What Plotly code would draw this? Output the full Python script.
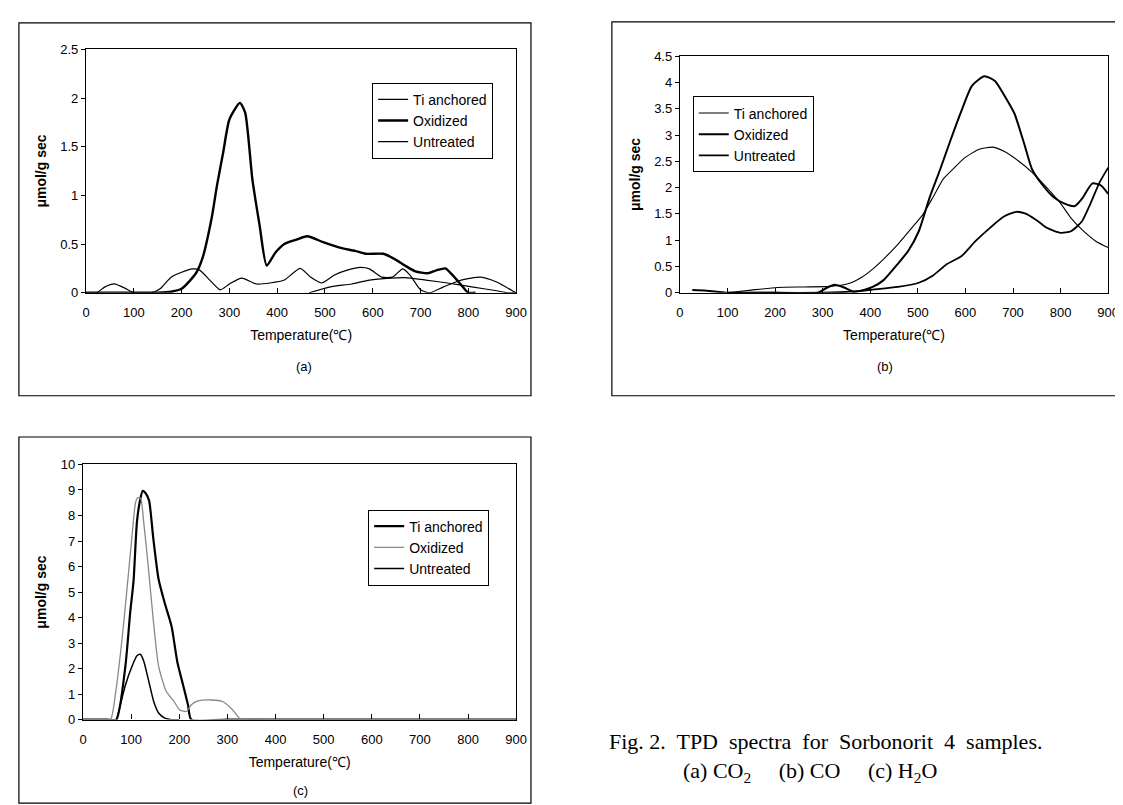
import plotly.graph_objects as go

W, H = 1123, 805

# ---------------- data ----------------
# Panel (a) CO2
a_ti_T = [0, 22, 40, 59, 80, 100, 137, 155, 178, 200, 222, 237, 259, 281, 300, 326, 356, 385, 415, 448,
          470, 493, 519, 548, 574, 593, 619, 641, 663, 678, 700, 719, 748, 785, 826, 859, 896, 900]
a_ti_v = [0, 0, 0.06, 0.09, 0.05, 0, 0, 0.04, 0.16, 0.21, 0.245, 0.235, 0.13, 0.03, 0.09, 0.15, 0.09, 0.10, 0.13, 0.25,
          0.16, 0.10, 0.18, 0.235, 0.26, 0.245, 0.16, 0.16, 0.245, 0.18, 0.03, 0, 0.06, 0.13, 0.16, 0.11, 0.01, 0]
a_ox_T = [0, 100, 150, 178, 200, 230, 244, 263, 274, 287, 300, 322, 333, 348, 363, 378, 396, 415, 437, 463,
          496, 533, 563, 585, 622, 644, 667, 689, 715, 733, 752, 767, 785, 800, 815]
a_ox_v = [0, 0, 0, 0.01, 0.04, 0.2, 0.36, 0.77, 1.1, 1.44, 1.78, 1.95, 1.85, 1.17, 0.7, 0.28, 0.41, 0.5, 0.54, 0.58,
          0.52, 0.46, 0.43, 0.40, 0.40, 0.35, 0.28, 0.22, 0.2, 0.23, 0.25, 0.18, 0.08, 0, 0]
a_un_T = [467, 511, 556, 593, 637, 667, 711, 756, 807, 859, 881, 900]
a_un_v = [0, 0.06, 0.09, 0.13, 0.15, 0.155, 0.13, 0.10, 0.06, 0.02, 0, 0]

# Panel (b) CO
b_ti_T = [100, 150, 205, 260, 316, 353, 383, 405, 428, 458, 487, 510, 532, 554, 577, 599, 629, 658, 681, 711,
          740, 770, 800, 822, 845, 874, 900]
b_ti_v = [0, 0.05, 0.1, 0.11, 0.12, 0.17, 0.3, 0.45, 0.64, 0.92, 1.23, 1.48, 1.82, 2.17, 2.38, 2.57, 2.73, 2.77, 2.69, 2.51,
          2.29, 2.01, 1.70, 1.42, 1.2, 0.98, 0.86]
b_ox_T = [26, 56, 100, 200, 290, 310, 325, 345, 365, 385, 405, 428, 458, 480, 502, 524, 547, 569, 592, 614, 640,
          662, 684, 703, 725, 740, 763, 785, 807, 830, 845, 867, 885, 900]
b_ox_v = [0.05, 0.04, 0, 0, 0, 0.1, 0.15, 0.1, 0.02, 0.05, 0.11, 0.24, 0.55, 0.8, 1.17, 1.79, 2.35, 2.91, 3.47, 3.94, 4.12,
          4.03, 3.72, 3.41, 2.79, 2.35, 2.04, 1.82, 1.70, 1.65, 1.79, 2.08, 2.04, 1.88]
b_un_T = [100, 200, 300, 360, 405, 458, 502, 532, 562, 592, 621, 651, 681, 707, 725, 748, 770, 800, 822, 845, 863, 882, 900]
b_un_v = [0, 0, 0, 0.02, 0.06, 0.11, 0.19, 0.33, 0.55, 0.7, 0.98, 1.23, 1.45, 1.54, 1.51, 1.39, 1.24, 1.14, 1.17, 1.36, 1.70, 2.1, 2.38]

# Panel (c) H2O
c_ti_T = [0, 50, 69, 88, 98, 105, 112, 119, 124, 129, 137, 146, 157, 170, 184, 196, 208, 218, 225, 300, 900]
c_ti_v = [0, 0, 0, 2.1, 4.2, 5.45, 7.75, 8.65, 8.97, 8.9, 8.6, 7.1, 5.5, 4.55, 3.65, 2.25, 1.35, 0.58, 0, 0, 0]
c_ox_T = [0, 40, 57, 68, 81, 91, 102, 109, 114, 120, 126, 135, 146, 157, 173, 187, 201, 215, 225, 239, 267, 291,
          311, 329, 400, 900]
c_ox_v = [0, 0, 0, 1.1, 3.15, 5.05, 7.25, 8.5, 8.7, 8.65, 7.75, 6.1, 3.9, 2.1, 1.1, 0.77, 0.38, 0.32, 0.58, 0.73, 0.77, 0.7,
          0.38, 0, 0, 0]
c_un_T = [70, 88, 102, 112, 119, 126, 137, 147, 157, 170, 184, 200]
c_un_v = [0, 1.35, 2.1, 2.5, 2.56, 2.3, 1.47, 0.7, 0.26, 0.06, 0, 0]

series_names = ["Ti anchored", "Oxidized", "Untreated"]
x_ticks = [0, 100, 200, 300, 400, 500, 600, 700, 800, 900]

# ---------------- layout helpers ----------------
def px(x):
    return x / W


def py(y):
    return 1 - y / H


FONT = "Liberation Sans, Arial, sans-serif"
SERIF = "Liberation Serif, Times New Roman, serif"

fig = go.Figure()


def add(T, v, name, xa, ya, legend, width, color="black", dash="solid"):
    fig.add_trace(go.Scatter(
        x=T, y=v, name=name, mode="lines", xaxis=xa, yaxis=ya, legend=legend,
        line=dict(color=color, width=width, shape="spline", smoothing=0.6, dash=dash),
        cliponaxis=True,
    ))


add(a_ti_T, a_ti_v, series_names[0], "x", "y", "legend", 1.2)
add(a_ox_T, a_ox_v, series_names[1], "x", "y", "legend", 2.4)
add(a_un_T, a_un_v, series_names[2], "x", "y", "legend", 1.2)

add(b_ti_T, b_ti_v, series_names[0], "x2", "y2", "legend2", 1.1)
add(b_ox_T, b_ox_v, series_names[1], "x2", "y2", "legend2", 2.0)
add(b_un_T, b_un_v, series_names[2], "x2", "y2", "legend2", 1.8)

add(c_ti_T, c_ti_v, series_names[0], "x3", "y3", "legend3", 2.2)
add(c_ox_T, c_ox_v, series_names[1], "x3", "y3", "legend3", 1.3, color="#888888")
add(c_un_T, c_un_v, series_names[2], "x3", "y3", "legend3", 1.5)

panels = [
    # (xdomain px, ydomain px, ymax, dtick)
    ((75, 511), (35, 283), 2.5, 0.5),
    ((677, 1111), (42, 283), 4.5, 0.5),
    ((72, 511), (458, 718), 10, 1),
]

axis_common = dict(showline=True, linecolor="black", linewidth=1.3, mirror=True, showgrid=False,
                   zeroline=False, tickfont=dict(family=FONT, size=13, color="black"))

for i, ((x0, x1), (y0, y1), ymax, dt) in enumerate(panels):
    sfx = "" if i == 0 else str(i + 1)
    fig.update_layout(**{
        "xaxis" + sfx: dict(domain=[px(x0), px(x1)], range=[0, 900], tickvals=x_ticks,
                            ticks="inside", ticklen=5, tickcolor="black", ticklabelstandoff=8,
                            anchor="y" + sfx,
                            title=dict(text="Temperature(℃)", font=dict(family=FONT, size=14, color="black"),
                                       standoff=10),
                            **axis_common),
        "yaxis" + sfx: dict(domain=[py(y1), py(y0)], range=[0, ymax], dtick=dt,
                            ticks="outside", ticklen=4, tickcolor="black",
                            anchor="x" + sfx,
                            title=dict(text="<b>μmol/g sec</b>", font=dict(family=FONT, size=14, color="black"),
                                       standoff=10),
                            **axis_common),
    })

leg_common = dict(bgcolor="white", bordercolor="black", borderwidth=1,
                  font=dict(family=FONT, size=14, color="black"),
                  xanchor="left", yanchor="top", tracegroupgap=0, itemwidth=30)

fig.update_layout(
    width=W, height=H, margin=dict(l=0, r=0, t=0, b=0),
    paper_bgcolor="white", plot_bgcolor="white", showlegend=True,
    legend=dict(x=px(365), y=py(69), **leg_common),
    legend2=dict(x=px(690), y=py(83), **leg_common),
    legend3=dict(x=px(361), y=py(504), **leg_common),
)

# outer frames
for (x0, y0, x1, y1) in [(7, 8, 526, 388), (608, 7, 1120, 388), (7, 430, 526, 803)]:
    fig.add_shape(type="rect", xref="paper", yref="paper",
                  x0=px(x0), x1=px(x1), y0=py(y1), y1=py(y0),
                  line=dict(color="black", width=1.2))

# panel tags
for txt, x, y in [("(a)", 296, 358), ("(b)", 885, 358), ("(c)", 292, 790)]:
    fig.add_annotation(text=txt, x=px(x), y=py(y), xref="paper", yref="paper", showarrow=False,
                       font=dict(family=FONT, size=13, color="black"), xanchor="center", yanchor="middle")

# caption
fig.add_annotation(text="Fig. 2.  TPD  spectra  for  Sorbonorit  4  samples.", x=px(603), y=py(740),
                   xref="paper", yref="paper", showarrow=False, xanchor="left", yanchor="middle",
                   font=dict(family=SERIF, size=22, color="black"))
fig.add_annotation(text="(a) CO<sub>2</sub>     (b) CO     (c) H<sub>2</sub>O", x=px(678), y=py(771),
                   xref="paper", yref="paper", showarrow=False, xanchor="left", yanchor="middle",
                   font=dict(family=SERIF, size=22, color="black"))

fig.write_html("out.html")
